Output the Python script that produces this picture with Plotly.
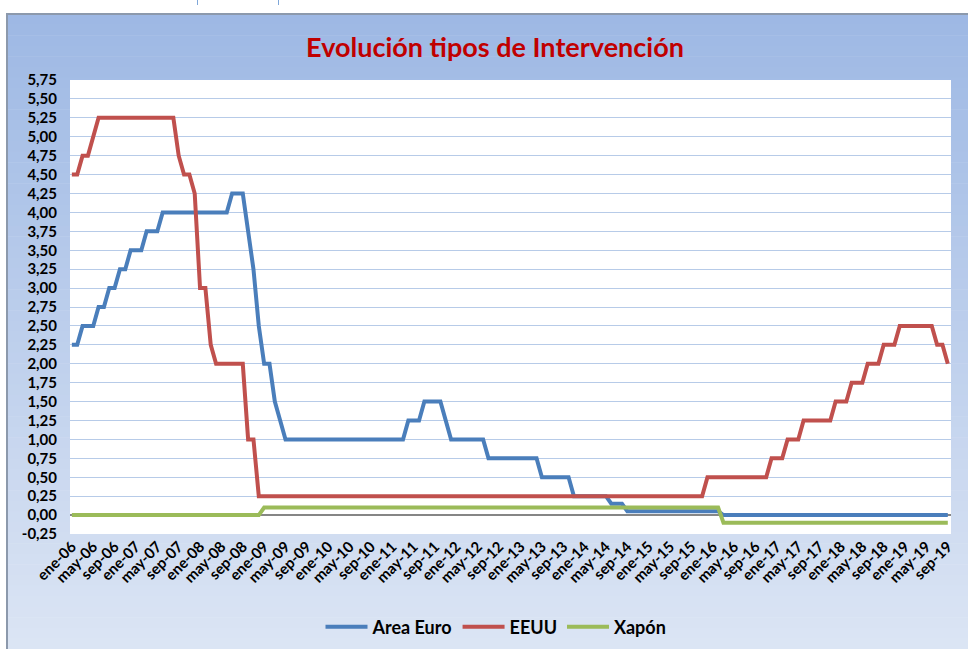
import plotly.graph_objects as go

# ---------------- DATA ----------------
MONTHS = ["ene", "feb", "mar", "abr", "may", "jun", "jul", "ago", "sep", "oct", "nov", "dic"]
YEARS = ["06", "07", "08", "09", "10", "11", "12", "13", "14", "15", "16", "17", "18", "19"]
categories = [f"{m}-{y}" for y in YEARS for m in MONTHS][:165]  # ene-06 .. sep-19

area_euro = [
    2.25, 2.25, 2.50, 2.50, 2.50, 2.75, 2.75, 3.00, 3.00, 3.25, 3.25, 3.50,  # 2006
    3.50, 3.50, 3.75, 3.75, 3.75, 4.00, 4.00, 4.00, 4.00, 4.00, 4.00, 4.00,  # 2007
    4.00, 4.00, 4.00, 4.00, 4.00, 4.00, 4.25, 4.25, 4.25, 3.75, 3.25, 2.50,  # 2008
    2.00, 2.00, 1.50, 1.25, 1.00, 1.00, 1.00, 1.00, 1.00, 1.00, 1.00, 1.00,  # 2009
    1.00, 1.00, 1.00, 1.00, 1.00, 1.00, 1.00, 1.00, 1.00, 1.00, 1.00, 1.00,  # 2010
    1.00, 1.00, 1.00, 1.25, 1.25, 1.25, 1.50, 1.50, 1.50, 1.50, 1.25, 1.00,  # 2011
    1.00, 1.00, 1.00, 1.00, 1.00, 1.00, 0.75, 0.75, 0.75, 0.75, 0.75, 0.75,  # 2012
    0.75, 0.75, 0.75, 0.75, 0.50, 0.50, 0.50, 0.50, 0.50, 0.50, 0.25, 0.25,  # 2013
    0.25, 0.25, 0.25, 0.25, 0.25, 0.15, 0.15, 0.15, 0.05, 0.05, 0.05, 0.05,  # 2014
    0.05, 0.05, 0.05, 0.05, 0.05, 0.05, 0.05, 0.05, 0.05, 0.05, 0.05, 0.05,  # 2015
    0.05, 0.05, 0.00, 0.00, 0.00, 0.00, 0.00, 0.00, 0.00, 0.00, 0.00, 0.00,  # 2016
    0.00, 0.00, 0.00, 0.00, 0.00, 0.00, 0.00, 0.00, 0.00, 0.00, 0.00, 0.00,  # 2017
    0.00, 0.00, 0.00, 0.00, 0.00, 0.00, 0.00, 0.00, 0.00, 0.00, 0.00, 0.00,  # 2018
    0.00, 0.00, 0.00, 0.00, 0.00, 0.00, 0.00, 0.00, 0.00,                    # 2019
]

eeuu = [
    4.50, 4.50, 4.75, 4.75, 5.00, 5.25, 5.25, 5.25, 5.25, 5.25, 5.25, 5.25,  # 2006
    5.25, 5.25, 5.25, 5.25, 5.25, 5.25, 5.25, 5.25, 4.75, 4.50, 4.50, 4.25,  # 2007
    3.00, 3.00, 2.25, 2.00, 2.00, 2.00, 2.00, 2.00, 2.00, 1.00, 1.00, 0.25,  # 2008
    0.25, 0.25, 0.25, 0.25, 0.25, 0.25, 0.25, 0.25, 0.25, 0.25, 0.25, 0.25,  # 2009
    0.25, 0.25, 0.25, 0.25, 0.25, 0.25, 0.25, 0.25, 0.25, 0.25, 0.25, 0.25,  # 2010
    0.25, 0.25, 0.25, 0.25, 0.25, 0.25, 0.25, 0.25, 0.25, 0.25, 0.25, 0.25,  # 2011
    0.25, 0.25, 0.25, 0.25, 0.25, 0.25, 0.25, 0.25, 0.25, 0.25, 0.25, 0.25,  # 2012
    0.25, 0.25, 0.25, 0.25, 0.25, 0.25, 0.25, 0.25, 0.25, 0.25, 0.25, 0.25,  # 2013
    0.25, 0.25, 0.25, 0.25, 0.25, 0.25, 0.25, 0.25, 0.25, 0.25, 0.25, 0.25,  # 2014
    0.25, 0.25, 0.25, 0.25, 0.25, 0.25, 0.25, 0.25, 0.25, 0.25, 0.25, 0.50,  # 2015
    0.50, 0.50, 0.50, 0.50, 0.50, 0.50, 0.50, 0.50, 0.50, 0.50, 0.50, 0.75,  # 2016
    0.75, 0.75, 1.00, 1.00, 1.00, 1.25, 1.25, 1.25, 1.25, 1.25, 1.25, 1.50,  # 2017
    1.50, 1.50, 1.75, 1.75, 1.75, 2.00, 2.00, 2.00, 2.25, 2.25, 2.25, 2.50,  # 2018
    2.50, 2.50, 2.50, 2.50, 2.50, 2.50, 2.25, 2.25, 2.00,                    # 2019
]

xapon = [
    0.00, 0.00, 0.00, 0.00, 0.00, 0.00, 0.00, 0.00, 0.00, 0.00, 0.00, 0.00,  # 2006
    0.00, 0.00, 0.00, 0.00, 0.00, 0.00, 0.00, 0.00, 0.00, 0.00, 0.00, 0.00,  # 2007
    0.00, 0.00, 0.00, 0.00, 0.00, 0.00, 0.00, 0.00, 0.00, 0.00, 0.00, 0.00,  # 2008
    0.10, 0.10, 0.10, 0.10, 0.10, 0.10, 0.10, 0.10, 0.10, 0.10, 0.10, 0.10,  # 2009
    0.10, 0.10, 0.10, 0.10, 0.10, 0.10, 0.10, 0.10, 0.10, 0.10, 0.10, 0.10,  # 2010
    0.10, 0.10, 0.10, 0.10, 0.10, 0.10, 0.10, 0.10, 0.10, 0.10, 0.10, 0.10,  # 2011
    0.10, 0.10, 0.10, 0.10, 0.10, 0.10, 0.10, 0.10, 0.10, 0.10, 0.10, 0.10,  # 2012
    0.10, 0.10, 0.10, 0.10, 0.10, 0.10, 0.10, 0.10, 0.10, 0.10, 0.10, 0.10,  # 2013
    0.10, 0.10, 0.10, 0.10, 0.10, 0.10, 0.10, 0.10, 0.10, 0.10, 0.10, 0.10,  # 2014
    0.10, 0.10, 0.10, 0.10, 0.10, 0.10, 0.10, 0.10, 0.10, 0.10, 0.10, 0.10,  # 2015
    0.10, 0.10, -0.10, -0.10, -0.10, -0.10, -0.10, -0.10, -0.10, -0.10, -0.10, -0.10,  # 2016
    -0.10, -0.10, -0.10, -0.10, -0.10, -0.10, -0.10, -0.10, -0.10, -0.10, -0.10, -0.10,  # 2017
    -0.10, -0.10, -0.10, -0.10, -0.10, -0.10, -0.10, -0.10, -0.10, -0.10, -0.10, -0.10,  # 2018
    -0.10, -0.10, -0.10, -0.10, -0.10, -0.10, -0.10, -0.10, -0.10,                       # 2019
]

y_tickvals = [-0.25, 0.00, 0.25, 0.50, 0.75, 1.00, 1.25, 1.50, 1.75, 2.00, 2.25, 2.50,
              2.75, 3.00, 3.25, 3.50, 3.75, 4.00, 4.25, 4.50, 4.75, 5.00, 5.25, 5.50, 5.75]
y_ticktext = ["-0,25", "0,00", "0,25", "0,50", "0,75", "1,00", "1,25", "1,50", "1,75", "2,00",
              "2,25", "2,50", "2,75", "3,00", "3,25", "3,50", "3,75", "4,00", "4,25", "4,50",
              "4,75", "5,00", "5,25", "5,50", "5,75"]
x_tickvals = categories[::4]

series_names = ["Area Euro", "EEUU", "Xapón"]
series_colors = ["#4A7EBB", "#C0504D", "#9BBB59"]

# ---------------- LAYOUT GEOMETRY ----------------
W, H = 968, 649
L, R, T, B = 70, 17, 80, 115
PW, PH = W - L - R, H - T - B


def px_x(px):
    return (px - L) / PW


def px_y(py):
    return (H - B - py) / PH


FONT = "Lato"

fig = go.Figure()
for name, vals, col in zip(series_names, [area_euro, eeuu, xapon], series_colors):
    fig.add_trace(go.Scatter(
        x=categories, y=vals, name=name, mode="lines",
        line=dict(color=col, width=4),
    ))

# gradient background bands
shapes = []
top_c = (157, 184, 228)
bot_c = (220, 229, 244)
y0, y1 = 14, H
n = 60
for k in range(n):
    a = y0 + (y1 - y0) * k / n
    b = y0 + (y1 - y0) * (k + 1) / n
    t = (k + 0.5) / n
    c = tuple(round(top_c[j] + (bot_c[j] - top_c[j]) * t) for j in range(3))
    shapes.append(dict(type="rect", xref="paper", yref="paper", layer="below",
                       x0=px_x(7), x1=px_x(W + 5), y0=px_y(b + 0.5), y1=px_y(a),
                       fillcolor=f"rgb{c}", line=dict(width=0)))
# white plot area
shapes.append(dict(type="rect", xref="paper", yref="paper", layer="below",
                   x0=0, x1=1, y0=0, y1=1, fillcolor="white", line=dict(width=0)))
# chart border
shapes.append(dict(type="rect", xref="paper", yref="paper", layer="below",
                   x0=px_x(7), x1=px_x(W + 10), y0=px_y(H + 10), y1=px_y(14),
                   fillcolor="rgba(0,0,0,0)", line=dict(color="#8C99AC", width=2)))
# small marks at the top
for mx in (197.5, 278.5):
    shapes.append(dict(type="line", xref="paper", yref="paper", layer="below",
                       x0=px_x(mx), x1=px_x(mx), y0=px_y(0), y1=px_y(5),
                       line=dict(color="#7FA7D9", width=1)))

fig.update_layout(
    width=W, height=H,
    margin=dict(l=L, r=R, t=T, b=B, autoexpand=False),
    paper_bgcolor="white",
    plot_bgcolor="white",
    shapes=shapes,
    title=dict(text="<b>Evolución tipos de Intervención</b>",
               x=495 / W, xanchor="center", y=1 - 48 / H, yanchor="middle",
               font=dict(family=FONT, size=27, color="#C00000")),
    font=dict(family=FONT, color="black"),
    showlegend=True,
    legend=dict(orientation="h", x=px_x(496), xanchor="center",
                y=px_y(627), yanchor="middle", itemwidth=42,
                font=dict(family=FONT, size=18, color="black", weight="bold"),
                bgcolor="rgba(0,0,0,0)"),
    xaxis=dict(type="category", categoryorder="array", categoryarray=categories,
               range=[-0.35, 164.6], tickvals=x_tickvals, ticktext=x_tickvals,
               tickangle=-45, showgrid=False, zeroline=False, showline=False,
               automargin=False,
               ticks="", tickfont=dict(family=FONT, size=15, color="black", weight="bold")),
    yaxis=dict(range=[-0.25, 5.75], tickvals=y_tickvals, ticktext=y_ticktext,
               showgrid=True, gridcolor="#B7CBE8", gridwidth=1,
               zeroline=True, zerolinecolor="#868686", zerolinewidth=1.5,
               showline=False, ticks="", ticklabelstandoff=12, automargin=False,
               tickfont=dict(family=FONT, size=15, color="black", weight="bold")),
)

fig.write_html("out.html", config={"displayModeBar": False},
               post_script="document.body.style.margin='0';document.body.style.overflow='hidden';")
